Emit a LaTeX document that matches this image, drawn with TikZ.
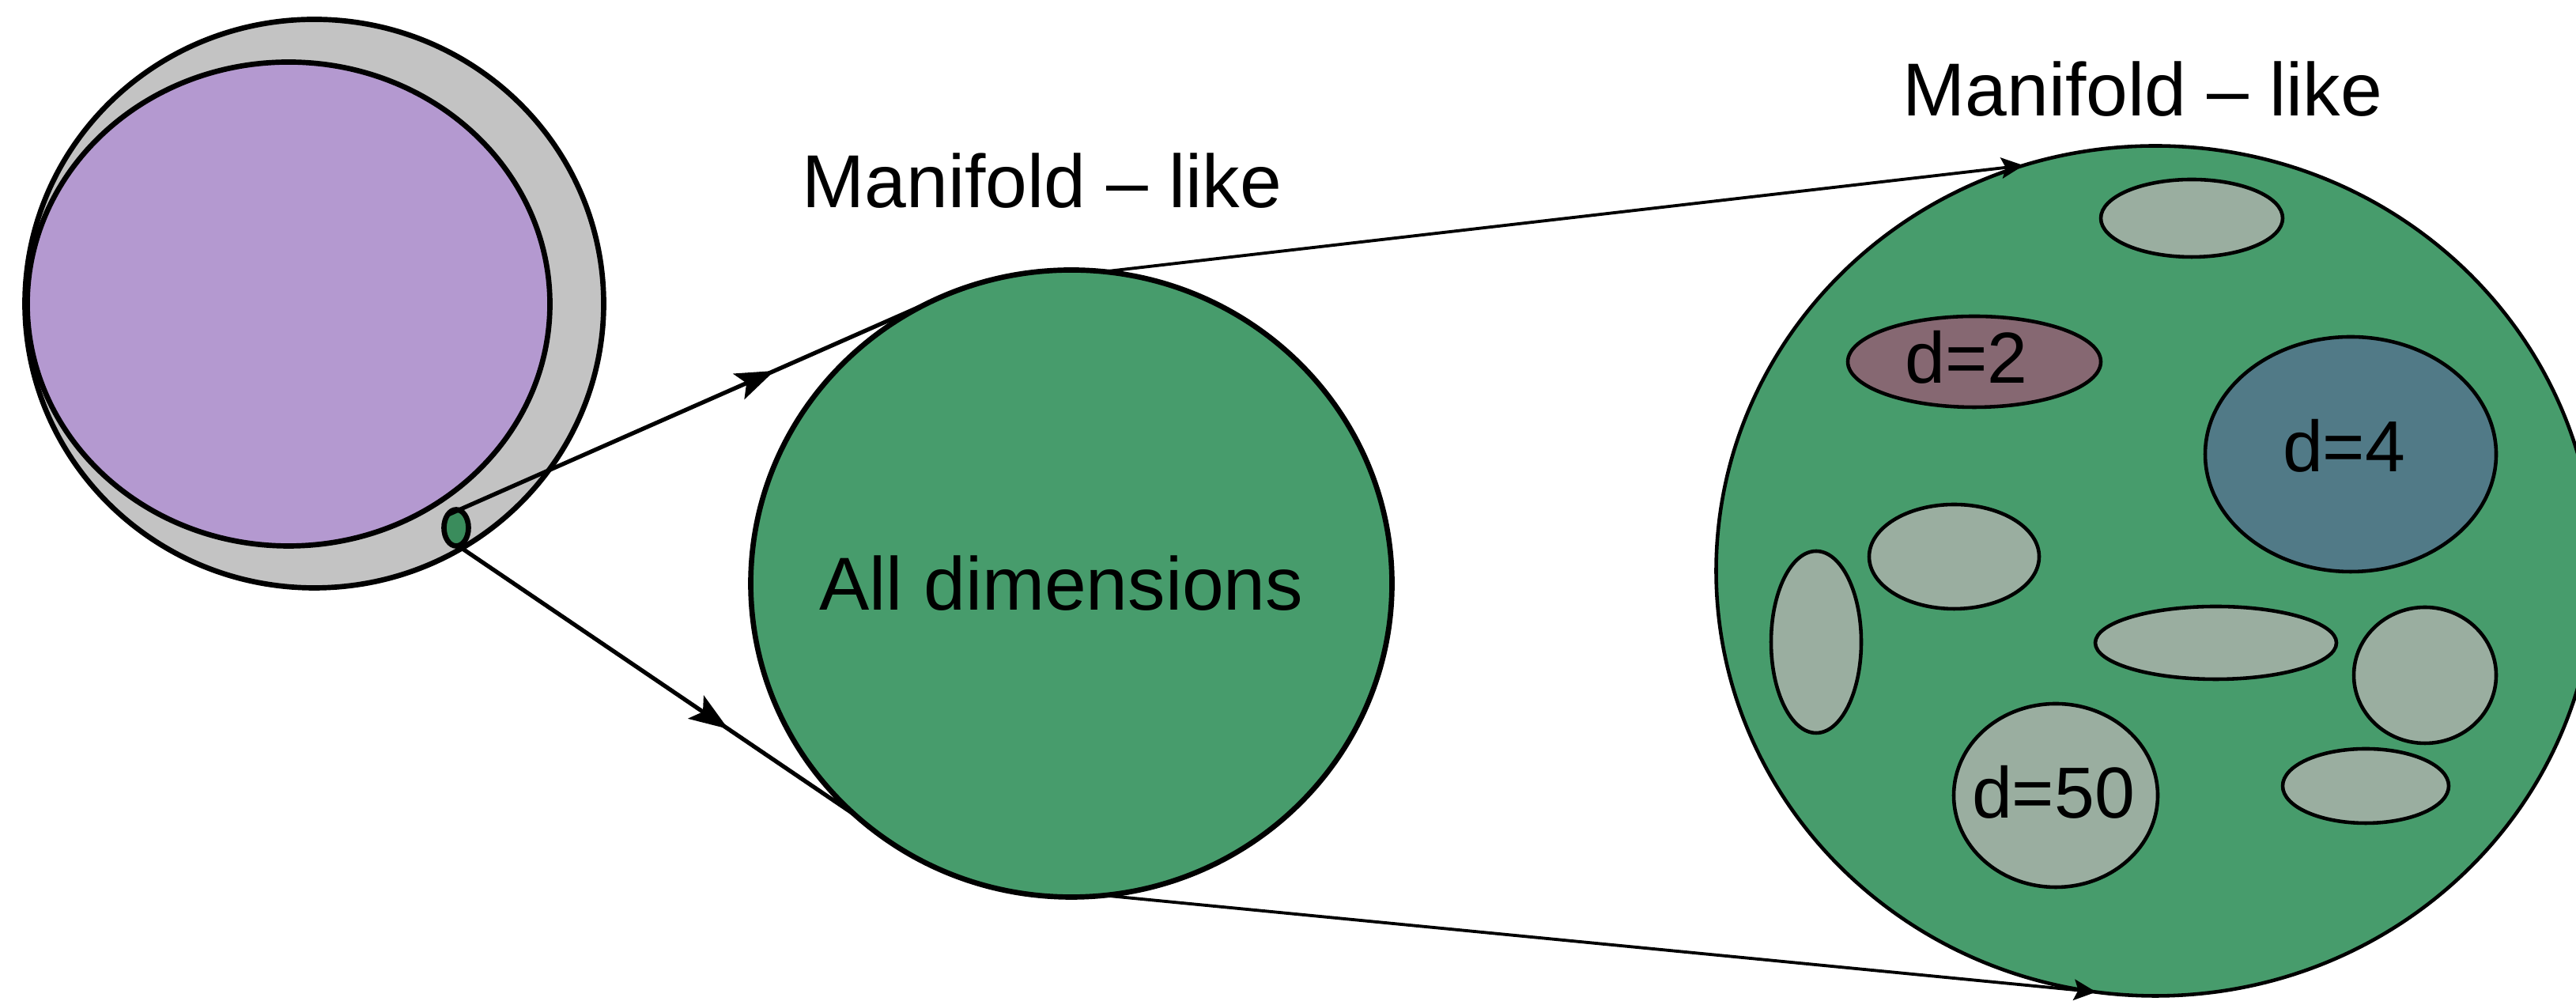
\documentclass[tikz,border=0pt]{standalone}
\usepackage{fontspec}
\setmainfont{Liberation Sans}
\usetikzlibrary{shapes.geometric,arrows.meta,decorations.markings}

\definecolor{shell}{RGB}{195,195,195}
\definecolor{lilac}{RGB}{180,153,208}
\definecolor{leaf}{RGB}{71,156,108}
\definecolor{darkleaf}{RGB}{58,140,92}
\definecolor{sage}{RGB}{154,174,160}
\definecolor{mauve}{RGB}{134,104,114}
\definecolor{slate}{RGB}{81,122,135}

\tikzset{
  blob/.style={ellipse, draw, line width=1.9pt, inner sep=0pt, outer sep=0pt},
  subblob/.style={blob, line width=1.3pt},
  link/.style={line width=1.5pt},
  thinlink/.style={line width=1.1pt, -{Stealth[length=8pt,width=7.5pt,inset=1.5pt]}},
  midarrow/.style={postaction={decorate}, decoration={markings,
    mark=at position #1 with {\arrow{Stealth[length=14pt,width=10pt,inset=3pt]}}}},
  tag/.style={font=\fontsize{27}{32}\selectfont},
  dtag/.style={font=\fontsize{26}{31}\selectfont}
}

\begin{document}
\begin{tikzpicture}
\clip (0,0) rectangle (32.58,12.71);
% the whole space and the small patch picked out of it
\node[blob, fill=shell, minimum width=7.32cm, minimum height=7.19cm] (cell) at (3.975,8.87) {};
\node[blob, fill=lilac, minimum width=6.61cm, minimum height=6.12cm] (cloud) at (3.65,8.865) {};
\node[blob, fill=darkleaf, minimum width=0.31cm, minimum height=0.46cm] (seed) at (5.77,6.035) {};

\node[blob, fill=leaf, minimum width=8.11cm, minimum height=7.93cm] (whole) at (13.55,5.33) {};
\node[tag, anchor=base] (wholetext) at (13.425,4.99) {All dimensions};
\node[tag, anchor=base] (midtitle) at (13.18,10.08) {Manifold -- like};

\node[subblob, fill=leaf, minimum width=11.11cm, minimum height=10.75cm] (zoom) at (27.26,5.49) {};
\node[tag, anchor=base] (zoomtitle) at (27.10,11.24) {Manifold -- like};

% pieces of lower dimension
\node[subblob, fill=sage, minimum width=2.30cm, minimum height=0.98cm] (p1) at (27.72,9.95) {};
\node[subblob, fill=mauve, minimum width=3.20cm, minimum height=1.15cm] (p2) at (24.97,8.135) {};
\node[subblob, fill=slate, minimum width=3.68cm, minimum height=2.97cm] (p4) at (29.73,6.965) {};
\node[subblob, fill=sage, minimum width=2.15cm, minimum height=1.32cm] (p5) at (24.715,5.67) {};
\node[subblob, fill=sage, minimum width=1.14cm, minimum height=2.30cm] (p6) at (22.97,4.59) {};
\node[subblob, fill=sage, minimum width=3.05cm, minimum height=0.92cm] (p7) at (28.025,4.58) {};
\node[subblob, fill=sage, minimum width=1.80cm, minimum height=1.72cm] (p8) at (30.67,4.17) {};
\node[subblob, fill=sage, minimum width=2.58cm, minimum height=2.32cm] (p50) at (26.00,2.65) {};
\node[subblob, fill=sage, minimum width=2.10cm, minimum height=0.94cm] (p9) at (29.92,2.77) {};

\node[dtag, anchor=base] (d2) at (24.87,7.865) {d=2};
\node[dtag, anchor=base] (d4) at (29.645,6.74) {d=4};
\node[dtag, anchor=base] (d50) at (25.97,2.36) {d=50};

\draw[link, midarrow=0.68] (seed.124) -- (whole.117);
\draw[link, midarrow=0.68] (seed.276) -- (whole.227);
\draw[thinlink] (whole.84) -- (zoom.108);
\draw[thinlink] (whole.276) -- (zoom.262);
\end{tikzpicture}
\end{document}
